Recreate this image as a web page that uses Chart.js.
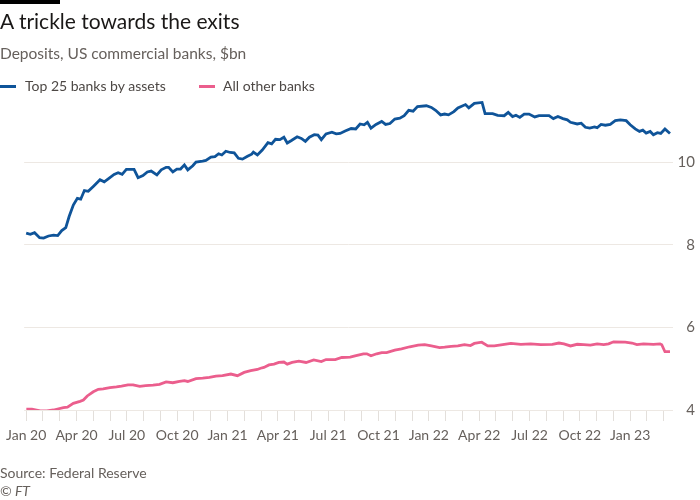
<!DOCTYPE html>
<html>
<head>
<meta charset="utf-8">
<script src="https://cdn.jsdelivr.net/npm/chart.js@4/dist/chart.umd.min.js"></script>
<style>
  html, body { margin: 0; padding: 0; background: #ffffff; }
  body { width: 700px; height: 500px; position: relative; overflow: hidden; font-family: Lato, "Noto Sans", sans-serif; }
  #bar { position: absolute; left: 0; top: 0; width: 60px; height: 4px; background: #000; }
  .t { position: absolute; white-space: nowrap; }
  #title { left: 0; top: 9px; font-size: 21px; line-height: 24px; color: #1a1817; }
  #sub { left: 0; top: 44px; font-size: 15.5px; line-height: 18px; color: #66605c; }
  .leg { top: 78px; font-size: 14px; line-height: 16px; color: #4d4845; }
  .sw { position: absolute; top: 85px; height: 3px; width: 16px; }
  #src { left: 0; top: 465px; font-size: 14px; line-height: 16px; color: #66605c; }
  #ft { left: 0; top: 483px; font-size: 14px; line-height: 16px; color: #66605c; font-style: italic; }
  #c { position: absolute; left: 0; top: 0; }
</style>
</head>
<body>
<canvas id="c" width="700" height="500"></canvas>
<div id="bar"></div>
<div class="t" id="title">A trickle towards the exits</div>
<div class="t" id="sub">Deposits, US commercial banks, $bn</div>
<div class="sw" style="left:0;background:#0f5499"></div>
<div class="t leg" style="left:25px">Top 25 banks by assets</div>
<div class="sw" style="left:199px;background:#eb5e8d"></div>
<div class="t leg" style="left:223px">All other banks</div>
<div class="t" id="src">Source: Federal Reserve</div>
<div class="t" id="ft">© FT</div>
<script>
// x values are months since January 2020 (0 = start of Jan 2020)
const tickLabels = ["Jan 20","Apr 20","Jul 20","Oct 20","Jan 21","Apr 21","Jul 21","Oct 21","Jan 22","Apr 22","Jul 22","Oct 22","Jan 23"];
const yTicks = [4, 6, 8, 10];

const topMonths = [0,0.25,0.5,0.8,1.04,1.33,1.63,1.88,2.12,2.36,2.56,2.81,3.05,3.25,3.47,3.7,4.0,4.4,4.65,4.95,5.24,5.48,5.72,5.97,6.43,6.67,6.96,7.22,7.45,7.79,8.05,8.34,8.49,8.74,8.98,9.2,9.43,9.63,9.93,10.12,10.52,10.71,11.01,11.25,11.47,11.66,11.9,12.16,12.4,12.65,12.89,13.19,13.44,13.54,13.78,14.07,14.41,14.63,14.86,15.12,15.36,15.56,15.81,16.15,16.4,16.64,16.88,17.17,17.39,17.59,17.87,18.22,18.48,18.71,19.01,19.37,19.64,19.9,20.14,20.34,20.55,20.85,21.19,21.42,21.68,21.97,22.27,22.53,22.8,23.06,23.32,23.85,24.15,24.4,24.7,24.94,25.17,25.49,25.73,26.18,26.38,26.71,27.17,27.35,27.8,28.1,28.49,28.73,28.99,29.19,29.42,29.68,29.97,30.31,30.57,30.86,31.16,31.42,31.69,31.99,32.25,32.44,32.84,33.08,33.33,33.59,33.87,34.03,34.26,34.52,34.81,35.11,35.41,35.76,36.0,36.3,36.55,36.75,36.95,37.19,37.38,37.62,37.82,38.07,38.37];
const topValues = [8.28,8.25,8.29,8.17,8.16,8.21,8.23,8.22,8.34,8.41,8.68,8.96,9.12,9.10,9.31,9.29,9.41,9.57,9.52,9.61,9.70,9.74,9.70,9.82,9.82,9.62,9.67,9.76,9.78,9.69,9.81,9.87,9.87,9.76,9.83,9.83,9.93,9.81,9.91,10.0,10.02,10.04,10.12,10.13,10.2,10.17,10.26,10.23,10.22,10.09,10.07,10.14,10.19,10.24,10.17,10.29,10.47,10.44,10.55,10.54,10.6,10.46,10.52,10.61,10.57,10.5,10.6,10.66,10.65,10.54,10.68,10.72,10.68,10.69,10.75,10.81,10.8,10.92,10.9,10.96,10.82,10.91,10.98,10.91,10.93,11.04,11.06,11.12,11.25,11.23,11.34,11.36,11.32,11.25,11.14,11.16,11.14,11.22,11.31,11.39,11.31,11.42,11.44,11.17,11.17,11.13,11.12,11.2,11.1,11.13,11.08,11.16,11.16,11.09,11.12,11.12,11.12,11.05,11.1,11.05,11.02,10.96,10.92,10.94,10.84,10.82,10.85,10.83,10.91,10.89,10.91,11.0,11.02,11.0,10.9,10.8,10.74,10.77,10.7,10.74,10.66,10.71,10.69,10.8,10.69];

const otherMonths = [0.01,0.34,0.84,1.23,1.63,1.93,2.22,2.46,2.81,3.21,3.41,3.64,4.0,4.3,4.59,4.99,5.38,5.68,6.07,6.37,6.77,7.12,7.56,7.95,8.34,8.74,9.14,9.43,9.63,10.12,10.52,10.92,11.31,11.7,12.2,12.59,12.99,13.38,13.78,13.97,14.17,14.47,14.77,15.06,15.36,15.56,15.85,16.25,16.68,17.14,17.59,17.87,18.42,18.81,19.31,19.6,20.1,20.3,20.55,20.89,21.19,21.48,21.97,22.37,22.86,23.36,23.75,24.15,24.64,24.94,25.33,25.73,26.12,26.48,26.71,27.15,27.51,27.9,28.4,28.89,29.48,30.07,30.67,31.36,31.75,32.05,32.44,32.84,33.23,33.63,34.03,34.42,34.71,35.01,35.7,36.1,36.4,36.79,37.38,37.78,37.88,38.07,38.37];
const otherValues = [4.02,4.02,3.98,3.98,4.0,4.03,4.06,4.07,4.16,4.21,4.24,4.34,4.44,4.5,4.51,4.54,4.56,4.58,4.61,4.61,4.57,4.59,4.6,4.62,4.68,4.66,4.69,4.71,4.69,4.76,4.77,4.79,4.82,4.83,4.87,4.83,4.91,4.95,4.98,5.01,5.03,5.09,5.11,5.15,5.16,5.11,5.15,5.18,5.15,5.21,5.17,5.22,5.22,5.27,5.28,5.31,5.36,5.36,5.31,5.36,5.39,5.39,5.45,5.48,5.53,5.57,5.58,5.55,5.51,5.52,5.54,5.55,5.58,5.56,5.61,5.64,5.55,5.55,5.58,5.61,5.59,5.6,5.58,5.59,5.62,5.6,5.55,5.59,5.58,5.57,5.6,5.58,5.6,5.65,5.64,5.62,5.58,5.6,5.59,5.6,5.58,5.41,5.41];

const monthTicks = [];
for (let m = 0; m <= 38; m++) monthTicks.push(m);

const toPoints = (xs, ys) => xs.map((x, i) => ({ x: x, y: ys[i] }));

new Chart(document.getElementById('c'), {
  type: 'line',
  data: {
    datasets: [
      { label: 'Top 25 banks by assets', data: toPoints(topMonths, topValues), borderColor: '#0f5499', borderWidth: 2.8, pointRadius: 0, tension: 0, fill: false },
      { label: 'All other banks', data: toPoints(otherMonths, otherValues), borderColor: '#eb5e8d', borderWidth: 2.8, pointRadius: 0, tension: 0, fill: false }
    ]
  },
  options: {
    responsive: false,
    animation: false,
    layout: { padding: { top: 100, left: 20, right: 5, bottom: 40 } },
    plugins: { legend: { display: false }, tooltip: { enabled: false }, title: { display: false } },
    scales: {
      x: {
        type: 'linear',
        min: -0.12,
        max: 38.55,
        afterBuildTicks: (s) => { s.ticks = monthTicks.map(v => ({ value: v })); },
        afterFit: (s) => { s.height = 50; },
        grid: { drawOnChartArea: false, drawTicks: true, tickLength: 11, color: '#e3dfdb', lineWidth: 1 },
        border: { display: false },
        ticks: {
          autoSkip: false, maxRotation: 0, padding: 6,
          color: '#66605c', font: { family: 'Lato', size: 14 },
          callback: (v) => (v % 3 === 0 ? tickLabels[v / 3] : '')
        }
      },
      y: {
        position: 'right',
        min: 4,
        max: 11.5,
        afterBuildTicks: (s) => { s.ticks = yTicks.map(v => ({ value: v })); },
        afterFit: (s) => { s.width = 22; },
        grid: { color: '#ede8e3', lineWidth: 1, drawTicks: false },
        border: { display: false },
        ticks: {
          crossAlign: 'far', padding: 4,
          color: '#66605c', font: { family: 'Lato', size: 15 },
          callback: (v) => String(v)
        }
      }
    }
  }
});
</script>
</body>
</html>
